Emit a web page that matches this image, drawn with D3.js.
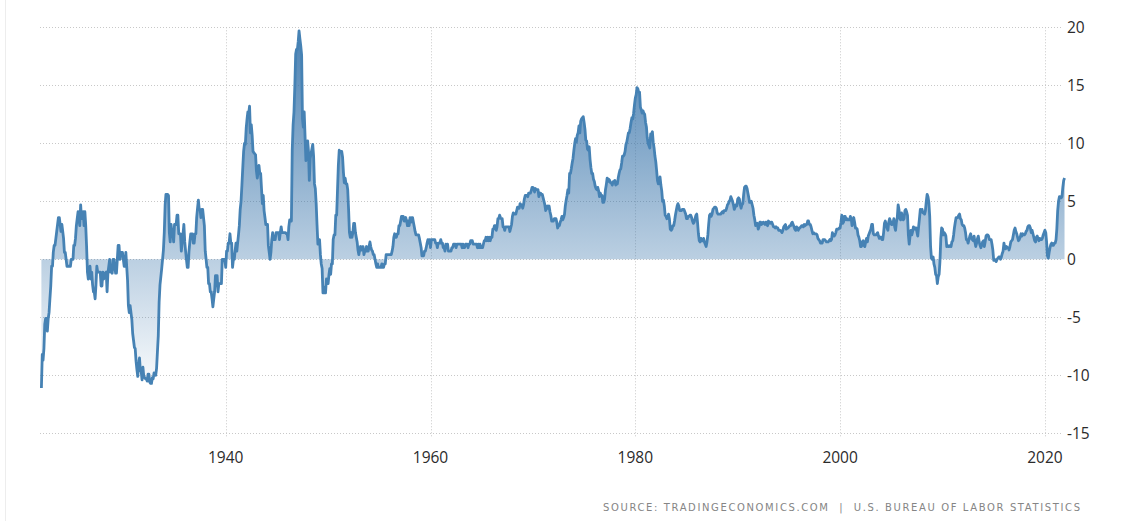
<!DOCTYPE html>
<html>
<head>
<meta charset="utf-8">
<script src="https://cdn.jsdelivr.net/npm/d3@7"></script>
<style>
  html, body { margin: 0; padding: 0; background: #fff; }
  svg { display: block; }
</style>
</head>
<body>
<svg id="chart" width="1122" height="521"></svg>
<script>
// ---- DATA ----
const startYear = 1922;           // first month: January 1922, monthly values
const inflation = [
  // 1922
  -11.1,-8.2,-8.7,-7.7,-5.6,-5.1,-5.1,-6.2,-5.1,-4.6,-3.4,-2.3,
  // 1923
  -0.6,-0.6,0.6,1.2,1.2,1.8,2.4,3.0,3.6,3.6,3.0,2.4,
  // 1924
  3.0,2.4,1.8,0.6,0.6,0.0,-0.6,-0.6,-0.6,-0.6,-0.6,0.0,
  // 1925
  0.0,0.0,1.2,1.2,1.8,2.9,3.5,4.1,3.5,2.9,4.7,3.5,
  // 1926
  3.5,4.1,2.9,4.1,2.9,1.1,-1.1,-1.7,-1.1,-0.6,-1.7,-1.1,
  // 1927
  -2.2,-2.8,-2.8,-3.4,-2.2,-0.6,-1.1,-1.1,-1.1,-1.1,-2.3,-2.3,
  // 1928
  -1.1,-1.7,-1.2,-1.2,-1.1,-2.8,-1.2,-0.6,0.0,-1.1,-0.6,-1.2,
  // 1929
  0.0,0.0,-0.6,-1.2,-1.2,0.0,1.2,1.2,0.0,0.6,0.6,0.6,
  // 1930
  0.0,-0.6,-0.6,0.6,-0.6,-1.8,-4.0,-4.6,-4.0,-4.6,-5.2,-6.4,
  // 1931
  -7.0,-7.6,-7.7,-8.8,-9.5,-10.1,-9.0,-8.5,-9.6,-9.7,-10.4,-9.3,
  // 1932
  -10.1,-10.2,-10.3,-10.3,-10.5,-9.9,-9.9,-10.6,-10.7,-10.7,-10.2,-10.3,
  // 1933
  -9.8,-9.9,-10.0,-9.4,-8.0,-6.6,-3.7,-2.2,-1.5,-0.8,0.0,0.8,
  // 1934
  2.3,4.7,5.6,5.6,5.6,5.5,2.3,1.5,3.0,2.3,2.3,1.5,
  // 1935
  3.0,3.0,3.0,3.8,3.8,2.2,2.2,2.2,0.7,1.5,2.2,3.0,
  // 1936
  1.5,0.7,0.0,-0.7,-0.7,0.7,1.5,2.2,2.2,2.2,1.4,1.4,
  // 1937
  2.2,2.2,3.6,4.4,5.1,4.3,4.3,3.6,4.3,4.3,3.6,2.9,
  // 1938
  0.7,0.0,-0.7,-0.7,-2.1,-2.1,-2.8,-2.8,-3.4,-4.1,-3.4,-2.8,
  // 1939
  -1.4,-1.4,-1.4,-2.8,-2.1,-2.1,-2.1,-2.1,0.0,0.0,0.0,0.0,
  // 1940
  -0.7,0.7,0.7,1.4,1.4,2.2,1.4,1.4,-0.7,0.0,0.0,0.7,
  // 1941
  1.4,0.7,1.4,2.1,2.9,4.3,5.0,6.4,7.9,9.3,10.0,9.9,
  // 1942
  11.3,12.1,12.7,12.6,13.2,10.9,11.6,10.7,9.3,9.2,9.1,9.0,
  // 1943
  7.6,7.0,7.5,8.1,7.4,7.4,6.1,4.8,5.5,4.2,3.6,3.0,
  // 1944
  3.0,3.0,1.2,0.6,0.0,0.6,1.7,2.3,1.7,1.7,1.7,2.3,
  // 1945
  2.3,2.3,2.3,1.7,2.3,2.8,2.3,2.3,2.3,2.3,2.3,2.2,
  // 1946
  2.2,1.7,2.8,3.4,3.4,3.3,9.4,11.6,12.7,14.9,17.7,18.1,
  // 1947
  18.1,18.8,19.7,19.0,18.4,17.6,12.1,11.4,12.7,10.6,8.5,8.8,
  // 1948
  10.2,9.3,6.8,8.7,9.1,9.5,9.9,8.9,6.5,6.1,4.8,3.0,
  // 1949
  1.3,1.3,1.7,0.4,-0.4,-0.8,-2.9,-2.9,-2.4,-2.9,-1.7,-2.1,
  // 1950
  -2.1,-1.3,-0.8,-1.3,-0.4,-0.4,1.7,2.1,2.1,3.8,3.8,5.9,
  // 1951
  8.1,9.4,9.3,9.3,9.3,8.8,7.5,6.6,7.0,6.5,6.5,6.0,
  // 1952
  4.3,2.3,1.9,2.3,1.9,2.3,3.1,3.1,2.3,1.9,1.5,0.8,
  // 1953
  0.4,0.8,1.1,0.8,1.1,1.1,0.4,0.7,0.7,1.1,0.7,0.7,
  // 1954
  1.1,1.5,1.1,0.8,0.7,0.4,0.4,0.0,-0.4,-0.7,-0.4,-0.7,
  // 1955
  -0.7,-0.7,-0.7,-0.4,-0.7,-0.7,-0.4,-0.4,0.4,0.4,0.4,0.4,
  // 1956
  0.4,0.4,0.4,0.7,1.1,1.9,2.2,1.9,1.9,2.2,2.2,2.9,
  // 1957
  2.9,3.3,3.7,3.7,3.7,3.3,3.3,3.6,3.3,2.9,3.3,2.9,
  // 1958
  3.6,3.2,3.6,3.6,3.2,2.8,2.4,2.1,2.1,2.1,2.1,1.8,
  // 1959
  1.4,1.0,0.3,0.3,0.3,0.7,0.7,1.0,1.4,1.7,1.4,1.7,
  // 1960
  1.0,1.7,1.7,1.7,1.7,1.7,1.4,1.4,1.0,1.4,1.4,1.4,
  // 1961
  1.7,1.4,1.4,1.0,1.0,0.7,1.3,1.0,1.3,0.7,0.7,0.7,
  // 1962
  0.7,1.0,1.0,1.3,1.3,1.3,1.0,1.3,1.3,1.3,1.3,1.3,
  // 1963
  1.3,1.0,1.3,1.0,1.0,1.3,1.3,1.3,1.0,1.3,1.3,1.6,
  // 1964
  1.6,1.6,1.3,1.3,1.3,1.3,1.3,1.0,1.3,1.0,1.3,1.0,
  // 1965
  1.0,1.0,1.3,1.6,1.6,1.9,1.6,1.9,1.6,1.9,1.6,1.9,
  // 1966
  1.9,2.6,2.6,2.9,2.9,2.5,2.8,3.5,3.5,3.8,3.6,3.5,
  // 1967
  3.5,2.8,2.8,2.5,2.8,2.8,2.8,2.8,2.8,2.4,2.7,3.0,
  // 1968
  3.7,4.0,3.9,3.9,3.9,4.2,4.5,4.4,4.4,4.8,4.7,4.7,
  // 1969
  4.4,4.7,5.2,5.5,5.5,5.5,5.4,5.7,5.7,5.7,5.9,6.2,
  // 1970
  6.2,6.1,5.8,6.1,6.0,6.0,6.0,5.4,5.7,5.7,5.6,5.6,
  // 1971
  5.3,5.0,4.7,4.2,4.4,4.6,4.4,4.6,4.1,3.8,3.3,3.3,
  // 1972
  3.3,3.5,3.5,3.5,3.2,2.7,2.9,2.9,3.2,3.4,3.7,3.4,
  // 1973
  3.6,3.9,4.6,5.1,5.5,6.0,5.7,7.4,7.4,7.8,8.3,8.7,
  // 1974
  9.4,10.0,10.4,10.1,10.7,10.9,11.5,10.9,11.9,12.1,12.2,12.3,
  // 1975
  11.8,11.2,10.3,10.2,9.5,9.4,9.7,8.6,7.9,7.4,7.4,6.9,
  // 1976
  6.7,6.3,6.1,6.0,6.2,5.9,5.4,5.7,5.5,5.5,4.9,4.9,
  // 1977
  5.2,6.0,6.4,7.0,6.7,6.9,6.8,6.6,6.6,6.4,6.7,6.7,
  // 1978
  6.8,6.4,6.6,6.5,7.0,7.4,7.7,7.8,8.3,8.9,8.9,9.0,
  // 1979
  9.3,9.9,10.1,10.5,10.9,10.9,11.3,11.8,12.2,12.1,12.6,13.3,
  // 1980
  13.9,14.2,14.8,14.7,14.4,14.4,13.1,12.9,12.6,12.8,12.6,12.5,
  // 1981
  11.8,11.4,10.5,10.0,9.8,9.6,10.8,10.8,11.0,10.1,9.6,8.9,
  // 1982
  8.4,7.6,6.8,6.5,6.7,7.1,6.4,5.9,5.0,5.1,4.6,3.8,
  // 1983
  3.7,3.5,3.6,3.9,3.5,2.6,2.5,2.6,2.9,2.9,3.3,3.8,
  // 1984
  4.2,4.6,4.8,4.6,4.2,4.2,4.2,4.3,4.3,4.3,4.1,3.9,
  // 1985
  3.5,3.5,3.7,3.7,3.8,3.8,3.6,3.3,3.1,3.2,3.5,3.8,
  // 1986
  3.9,3.1,2.2,1.6,1.5,1.8,1.6,1.6,1.8,1.5,1.3,1.1,
  // 1987
  1.5,2.1,3.0,3.8,3.9,3.7,3.9,4.3,4.4,4.5,4.5,4.4,
  // 1988
  4.0,3.9,3.9,3.9,3.9,4.0,4.1,4.0,4.2,4.2,4.2,4.4,
  // 1989
  4.7,4.8,5.0,5.1,5.4,5.2,5.0,4.7,4.3,4.5,4.7,4.6,
  // 1990
  5.2,5.3,5.2,4.7,4.4,4.7,4.8,5.6,6.2,6.3,6.3,6.1,
  // 1991
  5.7,5.3,4.9,4.9,5.0,4.7,4.4,3.8,3.4,2.9,3.0,3.1,
  // 1992
  2.6,2.8,3.2,3.2,3.0,3.1,3.2,3.1,3.0,3.2,3.0,2.9,
  // 1993
  3.3,3.2,3.1,3.2,3.2,3.0,2.8,2.8,2.7,2.8,2.7,2.7,
  // 1994
  2.5,2.5,2.5,2.4,2.3,2.5,2.8,2.9,3.0,2.6,2.7,2.7,
  // 1995
  2.8,2.9,2.9,3.1,3.2,3.0,2.8,2.6,2.5,2.8,2.6,2.5,
  // 1996
  2.7,2.7,2.8,2.9,2.9,2.8,3.0,2.9,3.0,3.0,3.3,3.3,
  // 1997
  3.0,3.0,2.8,2.5,2.2,2.3,2.2,2.2,2.2,2.1,1.8,1.7,
  // 1998
  1.6,1.4,1.4,1.4,1.7,1.7,1.7,1.6,1.5,1.5,1.5,1.6,
  // 1999
  1.7,1.6,1.7,2.3,2.1,2.0,2.1,2.3,2.6,2.6,2.6,2.7,
  // 2000
  2.7,3.2,3.8,3.1,3.2,3.7,3.7,3.4,3.5,3.4,3.4,3.4,
  // 2001
  3.7,3.5,2.9,3.3,3.6,3.2,2.7,2.7,2.6,2.1,1.9,1.6,
  // 2002
  1.1,1.1,1.5,1.6,1.2,1.1,1.5,1.8,1.5,2.0,2.2,2.4,
  // 2003
  2.6,3.0,3.0,2.2,2.1,2.1,2.1,2.2,2.3,2.0,1.8,1.9,
  // 2004
  1.9,1.7,1.7,2.3,3.1,3.3,3.0,2.7,2.5,3.2,3.5,3.3,
  // 2005
  3.0,3.0,3.1,3.5,2.8,2.5,3.2,3.6,4.7,4.3,3.5,3.4,
  // 2006
  4.0,3.6,3.4,3.5,4.2,4.3,4.1,3.8,2.1,1.3,2.0,2.5,
  // 2007
  2.1,2.4,2.8,2.6,2.7,2.7,2.4,2.0,2.8,3.5,4.3,4.1,
  // 2008
  4.3,4.0,4.0,3.9,4.2,5.0,5.6,5.4,4.9,3.7,1.1,0.1,
  // 2009
  0.0,0.2,-0.4,-0.7,-1.3,-1.4,-2.1,-1.5,-1.3,-0.2,1.8,2.7,
  // 2010
  2.6,2.1,2.3,2.2,2.0,1.1,1.2,1.1,1.1,1.2,1.1,1.5,
  // 2011
  1.6,2.1,2.7,3.2,3.6,3.6,3.6,3.8,3.9,3.5,3.4,3.0,
  // 2012
  2.9,2.9,2.7,2.3,1.7,1.7,1.4,1.7,2.0,2.2,1.8,1.7,
  // 2013
  1.6,2.0,1.5,1.1,1.4,1.8,2.0,1.5,1.2,1.0,1.2,1.5,
  // 2014
  1.6,1.1,1.5,2.0,2.1,2.1,2.0,1.7,1.7,1.7,1.3,0.8,
  // 2015
  -0.1,0.0,-0.1,-0.2,0.0,0.1,0.2,0.2,0.0,0.2,0.5,0.7,
  // 2016
  1.4,1.0,0.9,1.1,1.0,1.0,0.8,1.1,1.5,1.6,1.7,2.1,
  // 2017
  2.5,2.7,2.4,2.2,1.9,1.6,1.7,1.9,2.2,2.0,2.2,2.1,
  // 2018
  2.1,2.2,2.4,2.5,2.8,2.9,2.9,2.7,2.3,2.5,2.2,1.9,
  // 2019
  1.6,1.5,1.9,2.0,1.8,1.6,1.8,1.7,1.7,1.8,2.1,2.3,
  // 2020
  2.5,2.3,1.5,0.3,0.1,0.6,1.0,1.3,1.4,1.2,1.2,1.4,
  // 2021
  1.4,1.7,2.6,4.2,5.0,5.4,5.4,5.3,5.4,6.2,6.8,7.0
];
const yTicks = [-15, -10, -5, 0, 5, 10, 15, 20];
const xTickYears = [1940, 1960, 1980, 2000, 2020];
const sourceText = "SOURCE: TRADINGECONOMICS.COM  |  U.S. BUREAU OF LABOR STATISTICS";

// ---- CHART ----
const svg = d3.select("#chart");
const W = 1122, H = 521;
svg.append("rect").attr("width", W).attr("height", H).attr("fill", "#fff");

// left frame edge
svg.append("line").attr("x1", 5.5).attr("x2", 5.5).attr("y1", 0).attr("y2", H)
  .attr("stroke", "#ededed").attr("stroke-width", 1);

const data = inflation.map((v, i) => ({
  date: new Date(startYear + Math.floor(i / 12), i % 12, 1),
  value: v
}));

const x = d3.scaleTime()
  .domain([new Date(1922, 0, 1), new Date(2022, 0, 1)])
  .range([41.4, 1065.4]);
const y = d3.scaleLinear().domain([-15, 20]).range([433.3, 27.3]);

const gridL = 40, gridR = 1063;

// horizontal grid
svg.append("g").selectAll("line").data(yTicks).join("line")
  .attr("x1", gridL).attr("x2", gridR)
  .attr("y1", d => Math.round(y(d)) + 0.5).attr("y2", d => Math.round(y(d)) + 0.5)
  .attr("stroke", "#c8c8c8").attr("stroke-width", 1)
  .attr("stroke-dasharray", "1,2");

// vertical grid
svg.append("g").selectAll("line").data(xTickYears).join("line")
  .attr("x1", d => Math.round(x(new Date(d, 0, 1))) + 0.5)
  .attr("x2", d => Math.round(x(new Date(d, 0, 1))) + 0.5)
  .attr("y1", y(20)).attr("y2", y(-15) + 5)
  .attr("stroke", "#c8c8c8").attr("stroke-width", 1)
  .attr("stroke-dasharray", "1,2");

// gradient (semi-transparent so the grid shows faintly through)
const defs = svg.append("defs");
const grad = defs.append("linearGradient").attr("id", "fillGrad")
  .attr("gradientUnits", "userSpaceOnUse")
  .attr("x1", 0).attr("x2", 0).attr("y1", y(20)).attr("y2", y(-12));
grad.append("stop").attr("offset", "0%").attr("stop-color", "#2a6aa4").attr("stop-opacity", 0.85);
grad.append("stop").attr("offset", "100%").attr("stop-color", "#2a6aa4").attr("stop-opacity", 0);

const area = d3.area()
  .x(d => x(d.date))
  .y0(y(0))
  .y1(d => y(d.value));

svg.append("path").datum(data)
  .attr("d", area)
  .attr("fill", "url(#fillGrad)");

const line = d3.line().x(d => x(d.date)).y(d => y(d.value));
svg.append("path").datum(data)
  .attr("d", line)
  .attr("fill", "none")
  .attr("stroke", "#4682b4")
  .attr("stroke-width", 2.8)
  .attr("stroke-linejoin", "round");

// y labels
svg.append("g").selectAll("text").data(yTicks).join("text")
  .attr("x", 1067)
  .attr("y", d => y(d))
  .attr("dy", "0.36em")
  .attr("font-family", "'Open Sans', sans-serif")
  .attr("font-size", 15.5)
  .attr("fill", "#2b2b2b")
  .text(d => d);

// x labels
svg.append("g").selectAll("text").data(xTickYears).join("text")
  .attr("x", d => x(new Date(d, 0, 1)))
  .attr("y", 457)
  .attr("dy", "0.36em")
  .attr("text-anchor", "middle")
  .attr("font-family", "'Open Sans', sans-serif")
  .attr("font-size", 15.5)
  .attr("fill", "#2b2b2b")
  .text(d => d);

// source
svg.append("text")
  .attr("x", 603).attr("y", 507).attr("dy", "0.36em")
  .attr("font-family", "'DejaVu Sans', Verdana, sans-serif")
  .attr("font-size", 10)
  .attr("fill", "#858585")
  .attr("textLength", 477)
  .attr("lengthAdjust", "spacing")
  .attr("xml:space", "preserve")
  .style("white-space", "pre")
  .text(sourceText);
</script>
</body>
</html>
